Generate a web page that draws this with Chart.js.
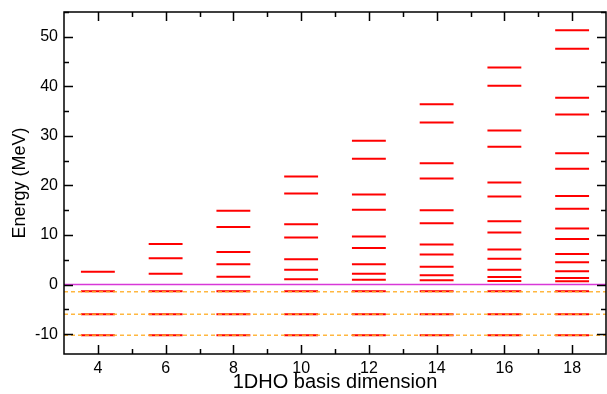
<!DOCTYPE html>
<html>
<head>
<meta charset="utf-8">
<script src="https://cdn.jsdelivr.net/npm/chart.js@4.4.1/dist/chart.umd.min.js"></script>
<style>
  html, body { margin: 0; padding: 0; background: #fff; }
  #wrap { width: 607px; height: 394px; }
</style>
</head>
<body>
<div id="wrap"><canvas id="levelChart"></canvas></div>
<script>
// Basis dimensions (x categories)
var basisDims = [4, 6, 8, 10, 12, 14, 16, 18];

// Energy levels (MeV) for each basis dimension
var levelsDim4  = [2.6, -1.35, -6.0, -10.2];
var levelsDim6  = [8.2, 5.3, 2.2, -1.35, -6.0, -10.2];
var levelsDim8  = [14.9, 11.6, 6.6, 4.1, 1.6, -1.35, -6.0, -10.2];
var levelsDim10 = [21.8, 18.4, 12.2, 9.5, 5.1, 3.0, 1.1, -1.35, -6.0, -10.2];
var levelsDim12 = [29.0, 25.4, 18.2, 15.1, 9.7, 7.4, 4.1, 2.2, 1.0, -1.35, -6.0, -10.2];
var levelsDim14 = [36.4, 32.7, 24.5, 21.4, 15.0, 12.4, 8.1, 6.05, 3.6, 1.9, 0.87, -1.35, -6.0, -10.2];
var levelsDim16 = [43.8, 40.1, 31.1, 27.8, 20.6, 17.8, 12.8, 10.5, 7.1, 5.2, 3.0, 1.55, 0.75, -1.35, -6.0, -10.2];
var levelsDim18 = [51.3, 47.6, 37.7, 34.3, 26.5, 23.4, 17.9, 15.3, 11.3, 9.2, 6.2, 4.5, 2.7, 1.35, 0.67, -1.35, -6.0, -10.2];
var levelsByDim = [levelsDim4, levelsDim6, levelsDim8, levelsDim10, levelsDim12, levelsDim14, levelsDim16, levelsDim18];

// Exact bound states (dashed reference lines)
var boundStates = [-1.45, -6.0, -10.2];

// Axis ranges
var xRange = [3, 19];
var yRange = [-14, 55];

// Build level segments: each level is a short horizontal line centred on its dimension
var levelPoints = [];
basisDims.forEach(function(d, i) {
    levelsByDim[i].forEach(function(e) {
        levelPoints.push({x: d - 0.5, y: e});
        levelPoints.push({x: d + 0.5, y: e});
        levelPoints.push({x: d, y: null});
    });
});

var datasets = [{
    label: 'levels',
    data: levelPoints,
    borderColor: '#ff0000',
    borderWidth: 2,
    pointRadius: 0,
    spanGaps: false,
    order: 3
}, {
    label: 'zero',
    data: [{x: xRange[0], y: 0}, {x: xRange[1], y: 0}],
    borderColor: '#d838d8',
    borderWidth: 1.5,
    pointRadius: 0,
    order: 2
}];
boundStates.forEach(function(b) {
    datasets.push({
        label: 'bound',
        data: [{x: xRange[0], y: b}, {x: xRange[1], y: b}],
        borderColor: 'rgba(255,170,30,0.85)',
        borderWidth: 1.5,
        borderDash: [4, 3],
        pointRadius: 0,
        order: 1
    });
});

// Inward tick marks on all four sides, plus the frame
var frameTicks = {
    id: 'frameTicks',
    afterDraw: function(chart) {
        var ctx = chart.ctx;
        var a = chart.chartArea;
        var xs = chart.scales.x, ys = chart.scales.y;
        ctx.save();
        ctx.strokeStyle = '#000';
        ctx.lineWidth = 1.5;
        ctx.strokeRect(a.left, a.top, a.right - a.left, a.bottom - a.top);
        ctx.beginPath();
        xs.ticks.forEach(function(t) {
            var v = t.value;
            if (v <= xRange[0] || v >= xRange[1]) return;
            var px = Math.round(xs.getPixelForValue(v)) + 0.5;
            var len = v % 2 === 0 ? 9 : 5;
            ctx.moveTo(px, a.bottom); ctx.lineTo(px, a.bottom - len);
            ctx.moveTo(px, a.top); ctx.lineTo(px, a.top + len);
        });
        ys.ticks.forEach(function(t) {
            var v = t.value;
            if (v % 5 !== 0) return;
            var py = Math.round(ys.getPixelForValue(v)) + 0.5;
            var len = v % 10 === 0 ? 9 : 5;
            ctx.moveTo(a.left, py); ctx.lineTo(a.left + len, py);
            ctx.moveTo(a.right, py); ctx.lineTo(a.right - len, py);
        });
        ctx.stroke();
        ctx.restore();
    }
};

var ctx = document.getElementById('levelChart').getContext('2d');
var chart = new Chart(ctx, {
    type: 'line',
    data: { datasets: datasets },
    options: {
        responsive: true,
        maintainAspectRatio: false,
        animation: false,
        layout: { padding: { top: 12, right: 1, left: 0, bottom: 0 } },
        plugins: { legend: { display: false }, tooltip: { enabled: false } },
        scales: {
            x: {
                type: 'linear',
                min: xRange[0], max: xRange[1],
                grid: { display: false, drawTicks: false },
                border: { display: false },
                ticks: {
                    stepSize: 1,
                    padding: 5,
                    color: '#000',
                    font: { family: 'Liberation Sans', size: 16 },
                    maxRotation: 0,
                    autoSkip: false,
                    callback: function(v) { return (v % 2 === 0 && v >= 4 && v <= 18) ? String(v) : ''; }
                },
                title: {
                    display: true,
                    text: '1DHO basis dimension',
                    color: '#000',
                    padding: { top: 0, bottom: 0 },
                    font: { family: 'Liberation Sans', size: 20 }
                },
                afterFit: function(s) { s.height = 40; s.paddingLeft = 0; s.paddingRight = 0; }
            },
            y: {
                min: yRange[0], max: yRange[1],
                grid: { display: false, drawTicks: false },
                border: { display: false },
                ticks: {
                    stepSize: 5,
                    padding: 6,
                    color: '#000',
                    font: { family: 'Liberation Sans', size: 16 },
                    autoSkip: false,
                    callback: function(v) { return (v % 10 === 0) ? String(v) : ''; }
                },
                title: {
                    display: true,
                    text: 'Energy (MeV)',
                    color: '#000',
                    padding: { top: 9, bottom: 0 },
                    font: { family: 'Liberation Sans', size: 18 }
                },
                afterFit: function(s) { s.width = 64; s.paddingTop = 0; s.paddingBottom = 0; }
            }
        }
    },
    plugins: [frameTicks]
});
</script>
</body>
</html>
